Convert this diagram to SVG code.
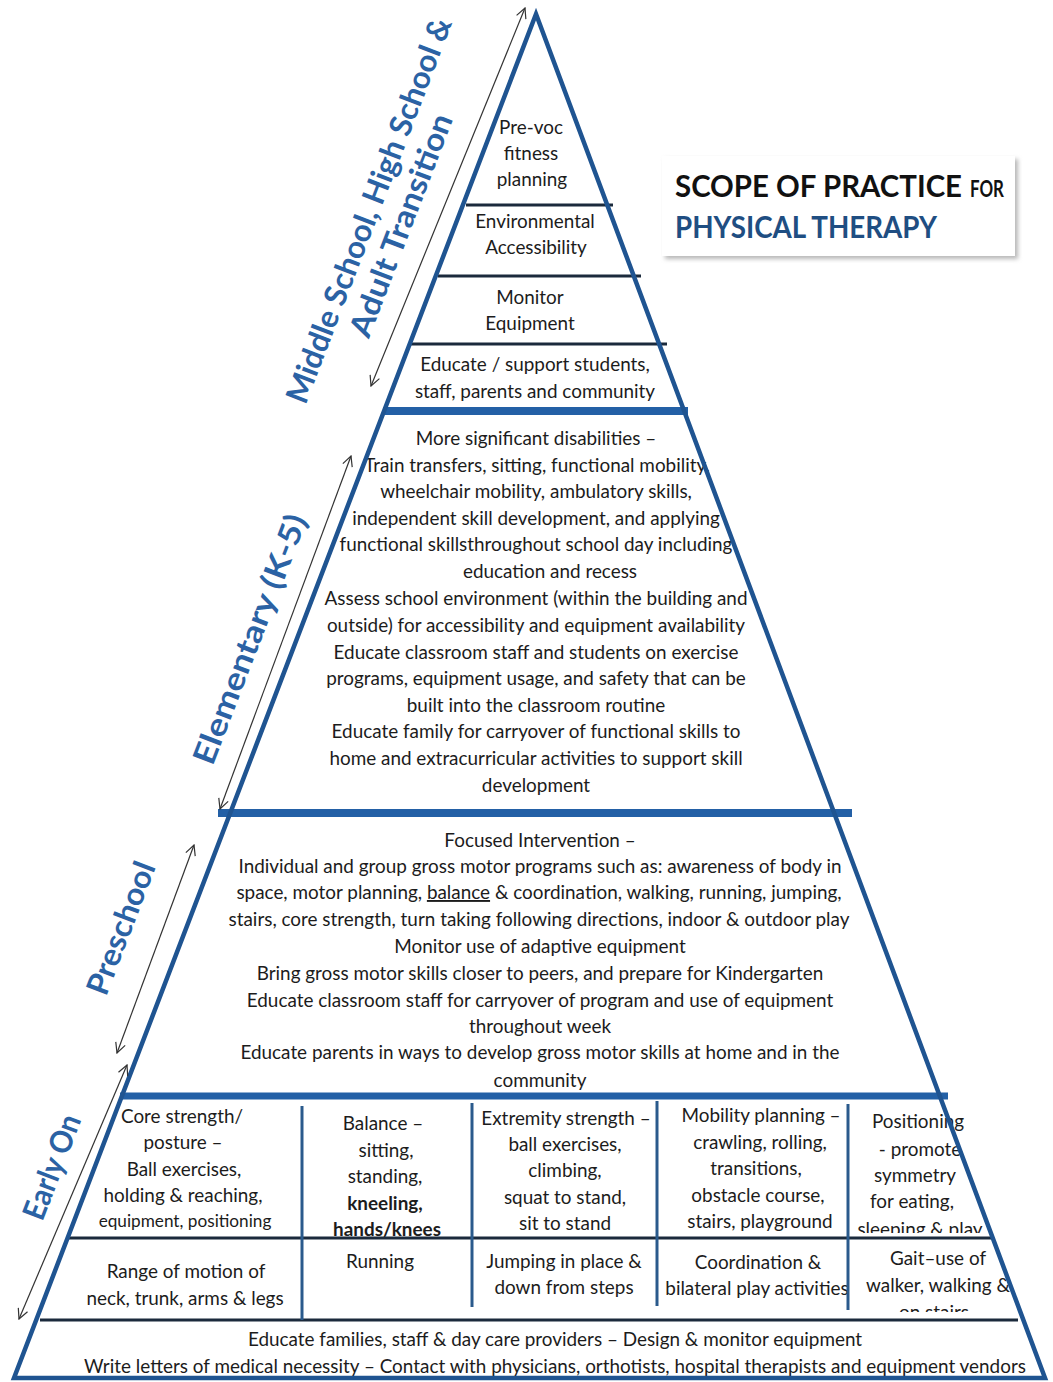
<svg xmlns="http://www.w3.org/2000/svg" width="1053" height="1382" viewBox="0 0 1053 1382">
<defs>
<style>
.t{font-family:Lato,"Open Sans","Liberation Sans",sans-serif;font-size:18.9px;fill:#1c1c1c;text-anchor:middle}
.s{font-size:17.2px}
.b{font-weight:bold}
.lbl{font-family:Lato,"Open Sans","Liberation Sans",sans-serif;font-weight:bold;font-size:31px;fill:#2b62a4;text-anchor:middle}
.thin{stroke:#1b2a3c;stroke-width:3;fill:none}
.band{stroke:#2360a6;fill:none}
.grid{stroke:#2a5a8c;stroke-width:3;fill:none}
.arr{stroke:#333;stroke-width:1.2;fill:none;marker-start:url(#ah);marker-end:url(#ah)}
.edge{stroke:#1f5491;stroke-width:4.5;fill:none;stroke-linejoin:miter}
</style>
<marker id="ah" viewBox="0 0 12 12" refX="11" refY="6" markerWidth="12" markerHeight="12" markerUnits="userSpaceOnUse" orient="auto-start-reverse">
<path d="M1,1 L11,6 L1,11" fill="none" stroke="#333" stroke-width="1.2"/>
</marker>
<filter id="sh" x="-5%" y="-10%" width="115%" height="130%"><feGaussianBlur stdDeviation="2"/></filter>
<clipPath id="c1"><rect x="840" y="1100" width="200" height="133"/></clipPath>
<clipPath id="c2"><rect x="850" y="1240" width="200" height="72"/></clipPath>
</defs>
<rect width="1053" height="1382" fill="#fff"/>

<g id="title">
<rect x="665" y="159" width="353" height="100" fill="#b8b8b8" filter="url(#sh)"/>
<rect x="662" y="156" width="353" height="100" fill="#fff"/>
<text x="675" y="197" font-family="Lato,'Open Sans',sans-serif" font-weight="bold" font-size="30" fill="#111" textLength="287" lengthAdjust="spacingAndGlyphs">SCOPE OF PRACTICE</text>
<text x="970" y="197" font-family="Lato,'Open Sans',sans-serif" font-weight="bold" font-size="22" fill="#111" textLength="34" lengthAdjust="spacingAndGlyphs">FOR</text>
<text x="675" y="238" font-family="Lato,'Open Sans',sans-serif" font-weight="bold" font-size="30" fill="#1f4e82" textLength="262" lengthAdjust="spacingAndGlyphs">PHYSICAL THERAPY</text>
</g>

<g id="tier-prevoc">
<text class="t" x="531" y="134">Pre-voc</text>
<text class="t" x="531" y="160">fitness</text>
<text class="t" x="532" y="186">planning</text>
</g>
<g id="tier-environmental">
<text class="t" x="535" y="228">Environmental</text>
<text class="t" x="536" y="254">Accessibility</text>
</g>
<g id="tier-monitor">
<text class="t" x="530" y="304">Monitor</text>
<text class="t" x="530" y="330">Equipment</text>
</g>
<g id="tier-educate">
<text class="t" x="535" y="371">Educate / support students,</text>
<text class="t" x="535" y="398">staff, parents and community</text>
</g>

<g id="tier-elementary">
<text class="t" x="536" y="445">More significant disabilities –</text>
<text class="t" x="537" y="472">Train transfers, sitting, functional mobility,</text>
<text class="t" x="536" y="498">wheelchair mobility, ambulatory skills,</text>
<text class="t" x="536" y="525">independent skill development, and applying</text>
<text class="t" x="536" y="551">functional skillsthroughout school day including</text>
<text class="t" x="550" y="578">education and recess</text>
<text class="t" x="536" y="605">Assess school environment (within the building and</text>
<text class="t" x="536" y="632">outside) for accessibility and equipment availability</text>
<text class="t" x="536" y="659">Educate classroom staff and students on exercise</text>
<text class="t" x="536" y="685">programs, equipment usage, and safety that can be</text>
<text class="t" x="536" y="712">built into the classroom routine</text>
<text class="t" x="536" y="738">Educate family for carryover of functional skills to</text>
<text class="t" x="536" y="765">home and extracurricular activities to support skill</text>
<text class="t" x="536" y="792">development</text>
</g>

<g id="tier-preschool">
<text class="t" x="540" y="847">Focused Intervention –</text>
<text class="t" x="540" y="873">Individual and group gross motor programs such as: awareness of body in</text>
<text class="t" x="539" y="899">space, motor planning, <tspan text-decoration="underline">balance</tspan> &amp; coordination, walking, running, jumping,</text>
<text class="t" x="539" y="926">stairs, core strength, turn taking following directions, indoor &amp; outdoor play</text>
<text class="t" x="540" y="953">Monitor use of adaptive equipment</text>
<text class="t" x="540" y="980">Bring gross motor skills closer to peers, and prepare for Kindergarten</text>
<text class="t" x="540" y="1007">Educate classroom staff for carryover of program and use of equipment</text>
<text class="t" x="540" y="1033">throughout week</text>
<text class="t" x="540" y="1059">Educate parents in ways to develop gross motor skills at home and in the</text>
<text class="t" x="540" y="1087">community</text>
</g>

<g id="early-core">
<text class="t" x="182" y="1123">Core strength/</text>
<text class="t" x="183" y="1149">posture –</text>
<text class="t" x="184" y="1176">Ball exercises,</text>
<text class="t" x="183" y="1202">holding &amp; reaching,</text>
<text class="t s" x="185" y="1227">equipment, positioning</text>
</g>
<g id="early-balance">
<text class="t" x="383" y="1130">Balance –</text>
<text class="t" x="386" y="1157">sitting,</text>
<text class="t" x="385" y="1183">standing,</text>
<text class="t b" x="385" y="1210">kneeling,</text>
<text class="t b" x="387" y="1236">hands/knees</text>
</g>
<g id="early-extremity">
<text class="t" x="566" y="1125">Extremity strength –</text>
<text class="t" x="565" y="1151">ball exercises,</text>
<text class="t" x="565" y="1177">climbing,</text>
<text class="t" x="565" y="1204">squat to stand,</text>
<text class="t" x="565" y="1230">sit to stand</text>
</g>
<g id="early-mobility">
<text class="t" x="761" y="1122">Mobility planning –</text>
<text class="t" x="760" y="1149">crawling, rolling,</text>
<text class="t" x="756" y="1175">transitions,</text>
<text class="t" x="758" y="1202">obstacle course,</text>
<text class="t" x="760" y="1228">stairs, playground</text>
</g>
<g id="early-positioning" clip-path="url(#c1)">
<text class="t" x="918" y="1128">Positioning</text>
<text class="t" x="920" y="1156">- promote</text>
<text class="t" x="915" y="1182">symmetry</text>
<text class="t" x="912" y="1208">for eating,</text>
<text class="t" x="920" y="1236">sleeping &amp; play</text>
</g>
<g id="early-rom">
<text class="t" x="186" y="1278">Range of motion of</text>
<text class="t" x="185" y="1305">neck, trunk, arms &amp; legs</text>
</g>
<g id="early-running">
<text class="t" x="380" y="1268">Running</text>
</g>
<g id="early-jumping">
<text class="t" x="564" y="1268">Jumping in place &amp;</text>
<text class="t" x="564" y="1294">down from steps</text>
</g>
<g id="early-coordination">
<text class="t" x="758" y="1269">Coordination &amp;</text>
<text class="t" x="757" y="1295">bilateral play activities</text>
</g>
<g id="early-gait" clip-path="url(#c2)">
<text class="t" x="938" y="1265">Gait–use of</text>
<text class="t" x="938" y="1292">walker, walking &amp;</text>
<text class="t" x="934" y="1319">on stairs</text>
</g>
<g id="base-all">
<text class="t" x="555" y="1346">Educate families, staff &amp; day care providers – Design &amp; monitor equipment</text>
<text class="t" x="555" y="1373">Write letters of medical necessity – Contact with physicians, orthotists, hospital therapists and equipment vendors</text>
</g>

<g id="structure">
<line class="thin" x1="466" y1="205" x2="613" y2="205"/>
<line class="thin" x1="438" y1="276" x2="641" y2="276"/>
<line class="thin" x1="411" y1="344" x2="667" y2="344"/>
<line class="band" stroke-width="8" x1="383" y1="411" x2="688" y2="411"/>
<line class="band" stroke-width="8" x1="218" y1="813" x2="852" y2="813"/>
<line class="band" stroke-width="7" x1="120" y1="1096" x2="948" y2="1096"/>
<line class="thin" x1="69" y1="1238" x2="994" y2="1238"/>
<line class="thin" x1="40" y1="1320" x2="1018" y2="1320"/>
<line class="grid" x1="302" y1="1106" x2="302" y2="1320"/>
<line class="grid" x1="472" y1="1103" x2="472" y2="1307"/>
<line class="grid" x1="657" y1="1101" x2="657" y2="1306"/>
<line class="grid" x1="848" y1="1104" x2="848" y2="1310"/>
<path class="edge" d="M536,14 L1045,1378 L14,1378 Z"/>
</g>

<g id="stage-labels">
<text class="lbl" transform="translate(379,214) rotate(-69)" textLength="410" lengthAdjust="spacingAndGlyphs">Middle School, High School &amp;</text>
<text class="lbl" transform="translate(411,229) rotate(-69)" textLength="236" lengthAdjust="spacingAndGlyphs">Adult Transition</text>
<text class="lbl" transform="translate(260,643) rotate(-69)" textLength="265" lengthAdjust="spacingAndGlyphs">Elementary (K-5)</text>
<text class="lbl" transform="translate(131,932) rotate(-69)" textLength="140" lengthAdjust="spacingAndGlyphs">Preschool</text>
<text class="lbl" transform="translate(62,1171) rotate(-69)" textLength="110" lengthAdjust="spacingAndGlyphs">Early On</text>
</g>

<g id="connectors">
<line class="arr" x1="525" y1="8" x2="371" y2="386"/>
<line class="arr" x1="351" y1="456" x2="220" y2="809"/>
<line class="arr" x1="194" y1="845" x2="117" y2="1053"/>
<line class="arr" x1="127" y1="1065" x2="19" y2="1319"/>
</g>
</svg>
